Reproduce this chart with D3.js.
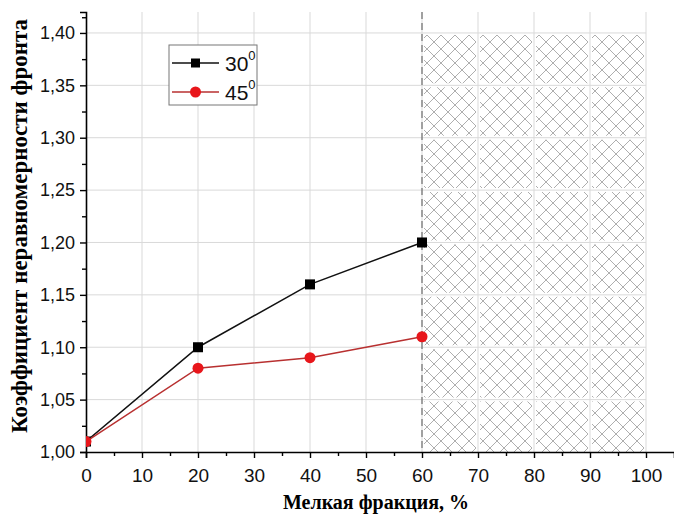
<!doctype html>
<html>
<head>
<meta charset="UTF-8">
<script src="https://d3js.org/d3.v7.min.js"></script>
<style>
  body { margin: 0; background: #fff; }
  svg text { font-family: "Liberation Sans", Arial, sans-serif; }
</style>
</head>
<body>
<svg id="chart" width="674" height="517"></svg>
<script>
// data
var xs = [0, 20, 40, 60];
var s30 = [1.01, 1.10, 1.16, 1.20];
var s45 = [1.01, 1.08, 1.09, 1.11];
var seriesNames = ["30", "45"];
var xTicks = [0, 10, 20, 30, 40, 50, 60, 70, 80, 90, 100];
var yTicks = [1.00, 1.05, 1.10, 1.15, 1.20, 1.25, 1.30, 1.35, 1.40];
var hatchRange = [60, 100];

var svg = d3.select("#chart");
var x = d3.scaleLinear().domain([0, 105]).range([86, 674]);
var y = d3.scaleLinear().domain([1.0, 1.42]).range([452, 12]);

var defs = svg.append("defs");
var pat = defs.append("pattern")
  .attr("id", "hatch").attr("patternUnits", "userSpaceOnUse")
  .attr("width", 14).attr("height", 14);
pat.append("path").attr("d", "M-3,3 L3,-3 M0,14 L14,0 M11,17 L17,11")
  .attr("stroke", "#a5a5a5").attr("stroke-width", 0.9);
pat.append("path").attr("d", "M-3,11 L3,17 M0,0 L14,14 M11,-3 L17,3")
  .attr("stroke", "#a5a5a5").attr("stroke-width", 0.9);
defs.append("clipPath").attr("id", "clip").append("rect")
  .attr("x", x(0)).attr("y", 0).attr("width", x(105) - x(0)).attr("height", y(1.0));

// hatched region
svg.append("rect")
  .attr("x", x(hatchRange[0])).attr("y", y(1.40))
  .attr("width", x(hatchRange[1]) - x(hatchRange[0]))
  .attr("height", y(1.0) - y(1.40))
  .attr("fill", "url(#hatch)");

// grid (white halo so it shows through the hatch)
[["#fff", 4], ["#d9d9d9", 1]].forEach(function (st) {
  svg.append("g").selectAll("line").data(xTicks.slice(1)).enter().append("line")
    .attr("x1", d => x(d)).attr("x2", d => x(d))
    .attr("y1", y(1.42)).attr("y2", y(1.0))
    .attr("stroke", st[0]).attr("stroke-width", st[1]);
  svg.append("g").selectAll("line").data(yTicks.slice(1)).enter().append("line")
    .attr("x1", x(0)).attr("x2", x(100))
    .attr("y1", d => y(d)).attr("y2", d => y(d))
    .attr("stroke", st[0]).attr("stroke-width", st[1]);
});

svg.append("line")
  .attr("x1", x(60)).attr("x2", x(60)).attr("y1", y(1.42)).attr("y2", y(1.0))
  .attr("stroke", "#555").attr("stroke-dasharray", "7,4");

// axes
var xAxis = d3.axisBottom(x).tickValues(xTicks).tickSize(6).tickFormat(d3.format("d"));
var gx = svg.append("g").attr("transform", "translate(0," + y(1.0) + ")").call(xAxis);
var gxm = svg.append("g").attr("transform", "translate(0," + y(1.0) + ")")
  .call(d3.axisBottom(x).tickValues([5, 15, 25, 35, 45, 55, 65, 75, 85, 95]).tickSize(4).tickFormat(""));
gxm.select(".domain").remove();
gx.select(".domain").attr("stroke-width", 1.6);

var yAxis = d3.axisLeft(y).tickValues(yTicks).tickSize(6).tickPadding(5)
  .tickFormat(d => d3.format(".2f")(d).replace(".", ","));
var gy = svg.append("g").attr("transform", "translate(" + x(0) + ",0)").call(yAxis);
var gym = svg.append("g").attr("transform", "translate(" + x(0) + ",0)")
  .call(d3.axisLeft(y).tickValues([1.025, 1.075, 1.125, 1.175, 1.225, 1.275, 1.325, 1.375, 1.415]).tickSize(4).tickFormat(""));
gym.select(".domain").remove();
gy.select(".domain").attr("stroke-width", 1.6);
[gx, gy, gxm, gym].forEach(g => {
  g.selectAll("line").attr("stroke", "#000").attr("stroke-width", 1.4);
  g.selectAll("text").attr("fill", "#111")
    .style("font-family", "Liberation Sans, Arial, sans-serif");
});
gy.selectAll("text").attr("font-size", 18);
gx.selectAll("text").attr("font-size", 19).attr("y", 30).attr("dy", 0);

// series
var line = d3.line().x(d => x(d[0])).y(d => y(d[1]));
var plot = svg.append("g").attr("clip-path", "url(#clip)");
var d30 = xs.map((v, i) => [v, s30[i]]);
var d45 = xs.map((v, i) => [v, s45[i]]);
plot.append("path").datum(d30).attr("d", line).attr("fill", "none").attr("stroke", "#111").attr("stroke-width", 1.5);
plot.selectAll(".sq").data(d30).enter().append("rect")
  .attr("x", d => x(d[0]) - 5).attr("y", d => y(d[1]) - 5).attr("width", 10).attr("height", 10).attr("fill", "#000");
plot.append("path").datum(d45).attr("d", line).attr("fill", "none").attr("stroke", "#b83030").attr("stroke-width", 1.5);
plot.selectAll(".ci").data(d45).enter().append("circle")
  .attr("cx", d => x(d[0])).attr("cy", d => y(d[1])).attr("r", 5.5).attr("fill", "#e8161b");

// legend
var lg = svg.append("g").attr("transform", "translate(169,45)");
lg.append("rect").attr("width", 88).attr("height", 60).attr("fill", "#fff").attr("stroke", "#777");
var items = [{ n: seriesNames[0], c: "#111", m: "sq" }, { n: seriesNames[1], c: "#b83030", m: "ci" }];
items.forEach((it, i) => {
  var g = lg.append("g").attr("transform", "translate(0," + (18 + i * 29) + ")");
  g.append("line").attr("x1", 3).attr("x2", 50).attr("stroke", it.c).attr("stroke-width", 1.5);
  if (it.m === "sq") g.append("rect").attr("x", 22).attr("y", -4.5).attr("width", 9).attr("height", 9).attr("fill", "#000");
  else g.append("circle").attr("cx", 26.5).attr("r", 5.5).attr("fill", "#e8161b");
  var t = g.append("text").attr("x", 56).attr("y", 8).attr("font-size", 21).attr("fill", "#111").text(it.n);
  t.append("tspan").attr("dy", -11).attr("font-size", 13).text("0");
});

// axis titles
svg.append("text").attr("x", 376).attr("y", 509).attr("text-anchor", "middle")
  .style("font-family", "Liberation Serif, Times New Roman, serif").attr("font-weight", "bold").attr("font-size", 20)
  .text("Мелкая фракция, %");
svg.append("text").attr("transform", "translate(27,226) rotate(-90)").attr("text-anchor", "middle")
  .style("font-family", "Liberation Serif, Times New Roman, serif").attr("font-weight", "bold").attr("font-size", 23)
  .text("Коэффициент неравномерности фронта");
</script>
</body>
</html>
